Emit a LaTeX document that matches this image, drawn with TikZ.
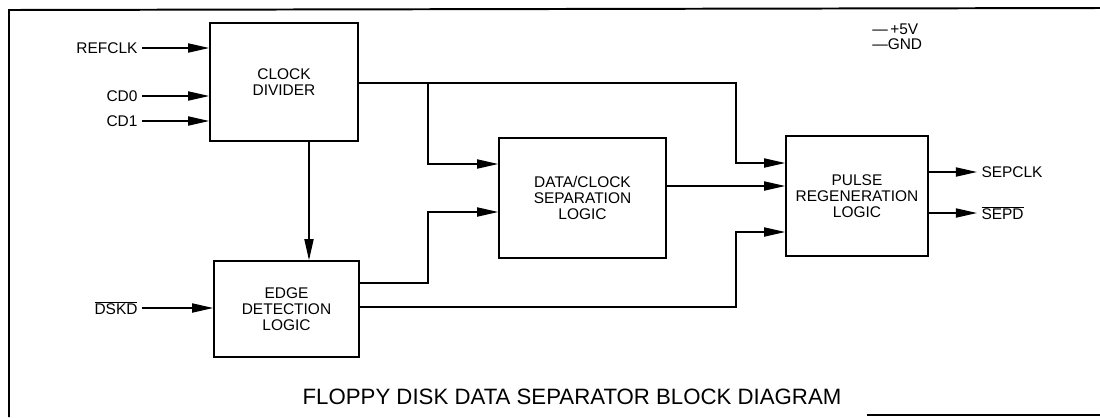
\documentclass[tikz,border=0pt]{standalone}
\usepackage{fontspec}
\setmainfont{Liberation Sans}
\usetikzlibrary{arrows.meta,positioning}
\tikzset{
  blockbox/.style={
    rectangle,
    draw=black,
    line width=1.1pt,
    align=center,
    inner sep=2pt,
    font=\fontsize{11}{11.6}\selectfont
  },
  siglabel/.style={
    inner sep=3pt,
    font=\fontsize{11}{12}\selectfont
  },
  pwrlabel/.style={
    anchor=west,
    inner sep=0pt,
    font=\fontsize{11}{11}\selectfont
  },
  sigline/.style={
    line width=1pt,
    draw=black
  },
  sigarrow/.style={
    sigline,
    -{Triangle[length=15pt,width=6.5pt]}
  },
  framerule/.style={
    line width=1.4pt,
    draw=black
  }
}

\begin{document}
\begin{tikzpicture}[x=0.025cm, y=-0.025cm]
\useasboundingbox (0,0) rectangle (1100,417);
% frame
\draw[framerule] (1100,8) -- (9,10) -- (9,417);
\draw[framerule] (867,415) -- (1100,415);

% blocks
\node[blockbox, minimum width=3.70cm, minimum height=2.95cm] (clk) at (284,82) {CLOCK\\DIVIDER};
\node[blockbox, minimum width=3.625cm, minimum height=2.40cm] (edge) at (286.5,309) {EDGE\\DETECTION\\LOGIC};
\node[blockbox, minimum width=4.175cm, minimum height=3.0cm] (sep) at (582.5,198) {DATA/CLOCK\\SEPARATION\\LOGIC};
\node[blockbox, minimum width=3.55cm, minimum height=3.0cm] (pulse) at (857,196) {PULSE\\REGENERATION\\LOGIC};

% signals
\node[siglabel, anchor=east] (refclk) at (142,48) {REFCLK};
\node[siglabel, anchor=east] (cd0) at (142,96) {CD0};
\node[siglabel, anchor=east] (cd1) at (142,121) {CD1};
\node[siglabel, anchor=east] (dskd) at (142,308) {$\overline{\mbox{DSKD}}$};
\node[siglabel, anchor=west] (sepclk) at (977,172) {SEPCLK};
\node[siglabel, anchor=west] (sepd) at (977,213) {$\overline{\mbox{SEPD}}$};
\node[pwrlabel] (pwr) at (872,29) {---\,+5V};
\node[pwrlabel] (gnd) at (872,44) {---GND};
\node[font=\fontsize{15.8}{17}\selectfont] (title) at (572,397) {FLOPPY DISK DATA SEPARATOR BLOCK DIAGRAM};

\coordinate (tapA) at (428,83);

\draw[sigarrow] (refclk) -- (refclk -| clk.west);
\draw[sigarrow] (cd0) -- (cd0 -| clk.west);
\draw[sigarrow] (cd1) -- (cd1 -| clk.west);
\draw[sigarrow] (dskd) -- (dskd -| edge.west);
\draw[sigarrow] (clk.south -| 309,0) -- (edge.north -| 309,0);
\draw[sigarrow] (clk.east |- tapA) -| (736,163) -- (pulse.west |- 0,163);
\draw[sigarrow] (tapA) |- (sep.west |- 0,164);
\draw[sigarrow] (edge.east |- 0,283) -| (428,212) -- (sep.west |- 0,212);
\draw[sigarrow] (edge.east |- 0,307) -| (736,232) -- (pulse.west |- 0,232);
\draw[sigarrow] (sep.east |- 0,186) -- (pulse.west |- 0,186);
\draw[sigarrow] (pulse.east |- sepclk) -- (sepclk);
\draw[sigarrow] (pulse.east |- sepd) -- (sepd);
\end{tikzpicture}
\end{document}
